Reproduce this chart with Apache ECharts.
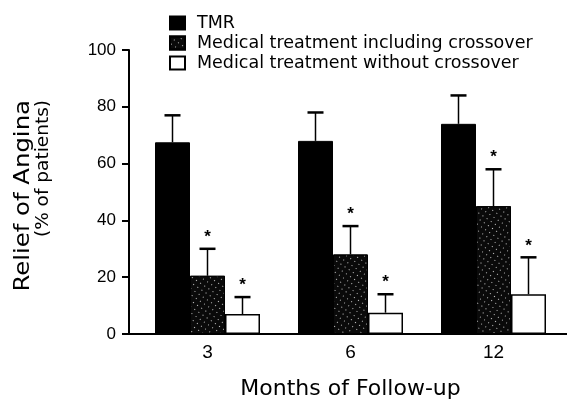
<!DOCTYPE html>
<html>
<head>
<meta charset="utf-8">
<script src="https://cdn.jsdelivr.net/npm/echarts@6/dist/echarts.min.js"></script>
<style>
html,body{margin:0;padding:0;background:#fff;}
#chart{width:567px;height:400px;}
</style>
</head>
<body>
<div id="chart"></div>
<script>
var categories = ['3', '6', '12'];
var seriesNames = ['TMR', 'Medical treatment including crossover', 'Medical treatment without crossover'];
var tmrValues = [67.5, 68, 74];
var tmrUpper = [77, 78, 84];
var inclValues = [20.5, 28, 45];
var inclUpper = [30, 38, 58];
var withoutValues = [7, 7.5, 14];
var withoutUpper = [13, 14, 27];
var starFlags = [false, true, true];
var yTicks = [0, 20, 40, 60, 80, 100];
var yTitleLines = ['Relief of Angina', '(% of patients)'];
var xTitle = 'Months of Follow-up';

var FONT = 'Liberation Sans';
var WIDE = 'DejaVu Sans';
var BAR_W = 35;

var values = [tmrValues, inclValues, withoutValues];
var uppers = [tmrUpper, inclUpper, withoutUpper];

var errData = [];
for (var s = 0; s < 3; s++) {
  for (var i = 0; i < categories.length; i++) {
    errData.push([i, values[s][i], uppers[s][i], s]);
  }
}

function renderErr(params, api) {
  var ci = api.value(0);
  var s = api.value(3);
  var base = api.coord([ci, api.value(1)]);
  var top = api.coord([ci, api.value(2)]);
  var x = base[0] + (s - 1) * BAR_W;
  var cap = 8;
  var children = [
    {type: 'line', shape: {x1: x, y1: base[1], x2: x, y2: top[1]}, style: {stroke: '#000', lineWidth: 1.5}},
    {type: 'line', shape: {x1: x - cap, y1: top[1], x2: x + cap, y2: top[1]}, style: {stroke: '#000', lineWidth: 2.5}}
  ];
  if (starFlags[s]) {
    children.push({type: 'text', style: {text: '*', x: x, y: top[1] - 3, textAlign: 'center', textVerticalAlign: 'bottom', font: 'bold 17px ' + FONT, fill: '#000'}});
  }
  return {type: 'group', children: children};
}

var chart = echarts.init(document.getElementById('chart'));
chart.setOption({
  animation: false,
  backgroundColor: '#fff',
  grid: [
    {left: 136, right: 2, top: 50, bottom: 66, outerBoundsMode: 'none', containLabel: false},
    {left: 129, right: 0, top: 50, bottom: 66, outerBoundsMode: 'none', containLabel: false}
  ],
  legend: {
    orient: 'vertical', left: 164, top: 9, itemWidth: 15, itemHeight: 13, itemGap: 2,
    icon: 'rect',
    textStyle: {fontFamily: WIDE, fontSize: 17.5, color: '#000', lineHeight: 18, padding: [0, 0, 0, 7]},
    data: seriesNames
  },
  graphic: [
    {type: 'text', x: 24, y: 100, rotation: Math.PI / 2, scaleX: 1.16,
      style: {text: yTitleLines[0], font: '21px ' + WIDE, fill: '#000', textAlign: 'right', textVerticalAlign: 'middle'}},
    {type: 'text', x: 43, y: 100, rotation: Math.PI / 2,
      style: {text: yTitleLines[1], font: '18.5px ' + WIDE, fill: '#000', textAlign: 'right', textVerticalAlign: 'middle'}}
  ],
  xAxis: [
    {
      type: 'category', data: categories, gridIndex: 0,
      axisLine: {show: false},
      axisTick: {show: false},
      axisLabel: {fontFamily: FONT, fontSize: 19, color: '#000', margin: 9},
      name: xTitle, nameLocation: 'middle', nameGap: 44,
      nameTextStyle: {fontFamily: WIDE, fontSize: 22, color: '#000'}
    },
    {
      type: 'value', gridIndex: 1, min: 0, max: 1,
      axisLine: {show: true, lineStyle: {color: '#000', width: 2}},
      axisTick: {show: false}, axisLabel: {show: false}, splitLine: {show: false}
    }
  ],
  yAxis: [
    {
      type: 'value', min: 0, max: 100, interval: 20, offset: 7, gridIndex: 0,
      axisLine: {show: true, lineStyle: {color: '#000', width: 2}},
      axisTick: {show: true, length: 7, lineStyle: {color: '#000', width: 2}},
      axisLabel: {fontFamily: FONT, fontSize: 17, color: '#000', margin: 13,
        formatter: function (v) { return yTicks.indexOf(v) >= 0 ? String(v) : ''; }},
      splitLine: {show: false}
    },
    {type: 'value', gridIndex: 1, show: false}
  ],
  series: [
    {name: seriesNames[0], type: 'bar', data: tmrValues, barWidth: BAR_W, barGap: '0%',
      itemStyle: {color: '#000', borderColor: '#000', borderWidth: 1}},
    {name: seriesNames[1], type: 'bar', data: inclValues, barWidth: BAR_W, barGap: '0%',
      itemStyle: {color: '#0a0a0a', borderColor: '#000', borderWidth: 1,
        decal: {symbol: 'rect', symbolSize: 0.9, color: 'rgba(255,255,255,0.85)', dashArrayX: [1, 4], dashArrayY: [1, 4], rotation: 0.6}}},
    {name: seriesNames[2], type: 'bar', data: withoutValues, barWidth: BAR_W, barGap: '0%',
      itemStyle: {color: '#fff', borderColor: '#000', borderWidth: 1.5}},
    {type: 'custom', renderItem: renderErr, data: errData, z: 5, silent: true,
      encode: {x: 0, y: 2}}
  ]
});
</script>
</body>
</html>
